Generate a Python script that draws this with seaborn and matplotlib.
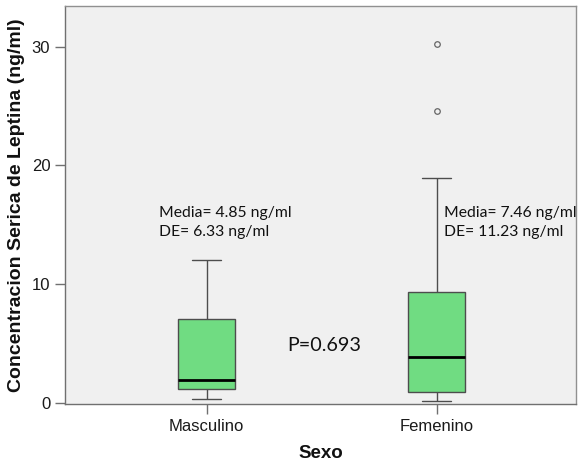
"""SPSS-style boxplot: serum leptin concentration by sex."""
import matplotlib
matplotlib.use("Agg")
import matplotlib.pyplot as plt
import pandas as pd
import seaborn as sns

masculino = [0.34, 1.23, 2.0, 7.06, 12.1]
femenino = [0.2, 0.5, 0.8, 0.95, 2.0, 3.0, 3.92, 5.5, 7.5, 9.36, 18.97, 24.56, 30.17]
categories = ["Masculino", "Femenino"]
annot_media = ["Media= 4.85 ng/ml", "Media= 7.46 ng/ml"]
annot_de = ["DE= 6.33 ng/ml", "DE= 11.23 ng/ml"]
p_text = "P=0.693"

df = pd.DataFrame({
    "Sexo": ["Masculino"] * len(masculino) + ["Femenino"] * len(femenino),
    "Leptina": masculino + femenino,
})

sns.set_style("white")
plt.rcParams["font.family"] = ["Liberation Sans", "DejaVu Sans"]

fig, ax = plt.subplots(figsize=(5.79, 4.65), dpi=100)
fig.subplots_adjust(left=0.112, right=0.995, top=0.987, bottom=0.131)
ax.set_facecolor("#F0F0F0")

sns.boxplot(data=df, x="Sexo", y="Leptina", order=categories, ax=ax,
            color="#70DC82", width=0.25, whis=1.5, saturation=1,
            linecolor="#4d4d4d", linewidth=1.0,
            medianprops={"color": "black", "linewidth": 2},
            flierprops={"marker": "o", "markersize": 4, "markerfacecolor": "none",
                        "markeredgecolor": "#666666", "markeredgewidth": 0.9})

ax.set_xlim(-0.616, 1.607)
ax.set_ylim(-0.05, 33.4)
ax.set_yticks([0, 10, 20, 30])

for s in ["top", "right"]:
    ax.spines[s].set_color("#909090")
for s in ["left", "bottom"]:
    ax.spines[s].set_color("#707070")
for s in ax.spines.values():
    s.set_linewidth(1.0)

ax.tick_params(axis="both", direction="out", length=7, width=1, color="#707070",
               labelsize=12, labelcolor="#1a1a1a", left=True, bottom=True)

ax.set_xlabel("Sexo", fontsize=13.5, fontweight="bold", labelpad=8, color="#111111")
ax.set_ylabel("Concentracion Serica de Leptina (ng/ml)", fontsize=14,
              fontweight="bold", labelpad=5, color="#111111")

ann_font = ["Lato", "DejaVu Sans"]
text_x = [-0.207, 1.033]
for i in range(2):
    ax.text(text_x[i], 16.05, annot_media[i], fontsize=11.3, family=ann_font,
            va="center", ha="left", color="#111111")
    ax.text(text_x[i], 14.4, annot_de[i], fontsize=11.3, family=ann_font,
            va="center", ha="left", color="#111111")
ax.text(0.353, 4.87, p_text, fontsize=14.2, family=ann_font, va="center",
        ha="left", color="#111111")

fig.savefig("out.png", dpi=100)
